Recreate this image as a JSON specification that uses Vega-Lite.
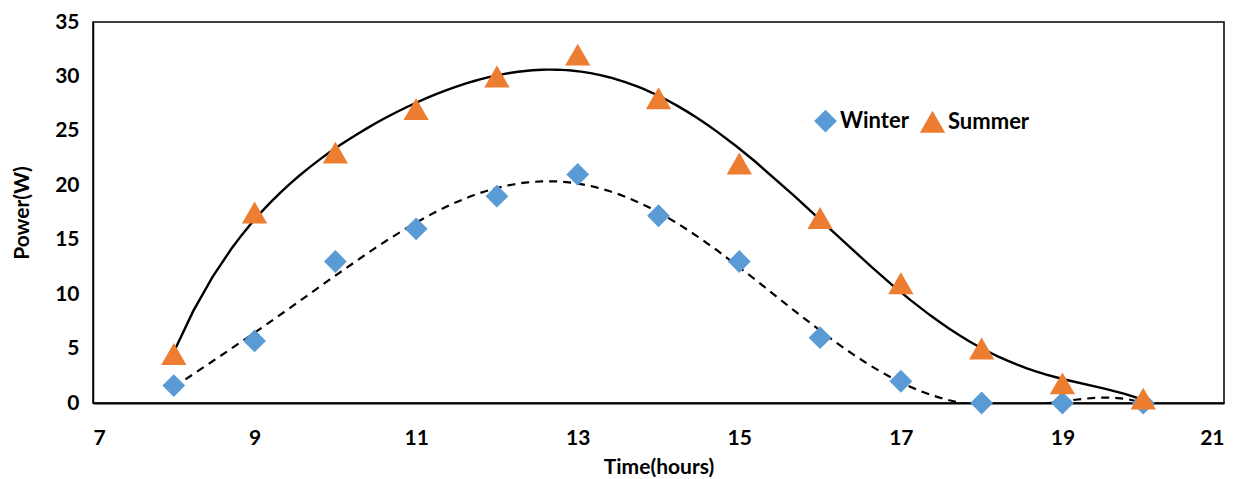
{
  "$schema": "https://vega.github.io/schema/vega-lite/v6.json",
  "autosize": "none",
  "width": 1131,
  "height": 381,
  "padding": {"left": 93, "top": 22, "right": 13, "bottom": 76},
  "background": "white",
  "config": {
    "font": "Lato",
    "view": {"stroke": "black", "strokeWidth": 1.5},
    "axis": {"labelFont": "Lato", "labelFontWeight": "bold", "labelFontSize": 21, "labelColor": "black", "titleFont": "Lato", "titleFontWeight": "bold", "titleFontSize": 21, "titleColor": "black", "grid": false, "ticks": false, "domainColor": "black"}
  },
  "data": {
    "values": [
      {"time": 8, "power": 1.6, "series": "Winter"},
      {"time": 9, "power": 5.7, "series": "Winter"},
      {"time": 10, "power": 13.0, "series": "Winter"},
      {"time": 11, "power": 16.0, "series": "Winter"},
      {"time": 12, "power": 19.0, "series": "Winter"},
      {"time": 13, "power": 21.0, "series": "Winter"},
      {"time": 14, "power": 17.2, "series": "Winter"},
      {"time": 15, "power": 13.0, "series": "Winter"},
      {"time": 16, "power": 6.0, "series": "Winter"},
      {"time": 17, "power": 2.0, "series": "Winter"},
      {"time": 18, "power": 0.0, "series": "Winter"},
      {"time": 19, "power": 0.0, "series": "Winter"},
      {"time": 20, "power": 0.0, "series": "Winter"},
      {"time": 8, "power": 4.5, "series": "Summer"},
      {"time": 9, "power": 17.5, "series": "Summer"},
      {"time": 10, "power": 23.0, "series": "Summer"},
      {"time": 11, "power": 27.0, "series": "Summer"},
      {"time": 12, "power": 30.0, "series": "Summer"},
      {"time": 13, "power": 32.0, "series": "Summer"},
      {"time": 14, "power": 28.0, "series": "Summer"},
      {"time": 15, "power": 22.0, "series": "Summer"},
      {"time": 16, "power": 17.0, "series": "Summer"},
      {"time": 17, "power": 11.0, "series": "Summer"},
      {"time": 18, "power": 5.0, "series": "Summer"},
      {"time": 19, "power": 1.8, "series": "Summer"},
      {"time": 20, "power": 0.4, "series": "Summer"}
    ]
  },
  "encoding": {
    "x": {"field": "time", "type": "quantitative", "scale": {"domain": [7, 21], "nice": false, "zero": false}, "axis": {"values": [7, 9, 11, 13, 15, 17, 19, 21], "title": "Time(hours)", "labelPadding": 24, "titlePadding": 8, "domainWidth": 2}},
    "y": {"field": "power", "type": "quantitative", "scale": {"domain": [0, 35], "nice": false}, "axis": {"values": [0, 5, 10, 15, 20, 25, 30, 35], "title": "Power(W)", "labelPadding": 14, "titlePadding": 22, "domainWidth": 1.5}}
  },
  "layer": [
    {
      "transform": [{"filter": "datum.series === 'Winter'"}, {"regression": "power", "on": "time", "method": "poly", "order": 6, "extent": [8, 20]}],
      "mark": {"type": "line", "color": "black", "strokeWidth": 2.2, "strokeDash": [8, 6], "clip": true}
    },
    {
      "transform": [{"filter": "datum.series === 'Summer'"}, {"regression": "power", "on": "time", "method": "poly", "order": 6, "extent": [8, 20]}],
      "mark": {"type": "line", "color": "black", "strokeWidth": 2.4, "clip": true}
    },
    {
      "mark": {"type": "point", "filled": true, "opacity": 1},
      "encoding": {
        "color": {"field": "series", "type": "nominal", "scale": {"domain": ["Winter", "Summer"], "range": ["#5B9BD5", "#ED7D31"]}, "legend": {"orient": "none", "legendX": 720, "legendY": 86, "direction": "horizontal", "title": null, "labelFont": "Lato", "labelFontWeight": "bold", "labelFontSize": 22, "labelColor": "black", "symbolSize": 220, "columnPadding": 10, "labelOffset": 2}},
        "shape": {"field": "series", "type": "nominal", "scale": {"domain": ["Winter", "Summer"], "range": ["diamond", "triangle-up"]}},
        "size": {"field": "series", "type": "nominal", "scale": {"domain": ["Winter", "Summer"], "range": [520, 640]}, "legend": null}
      }
    }
  ]
}
